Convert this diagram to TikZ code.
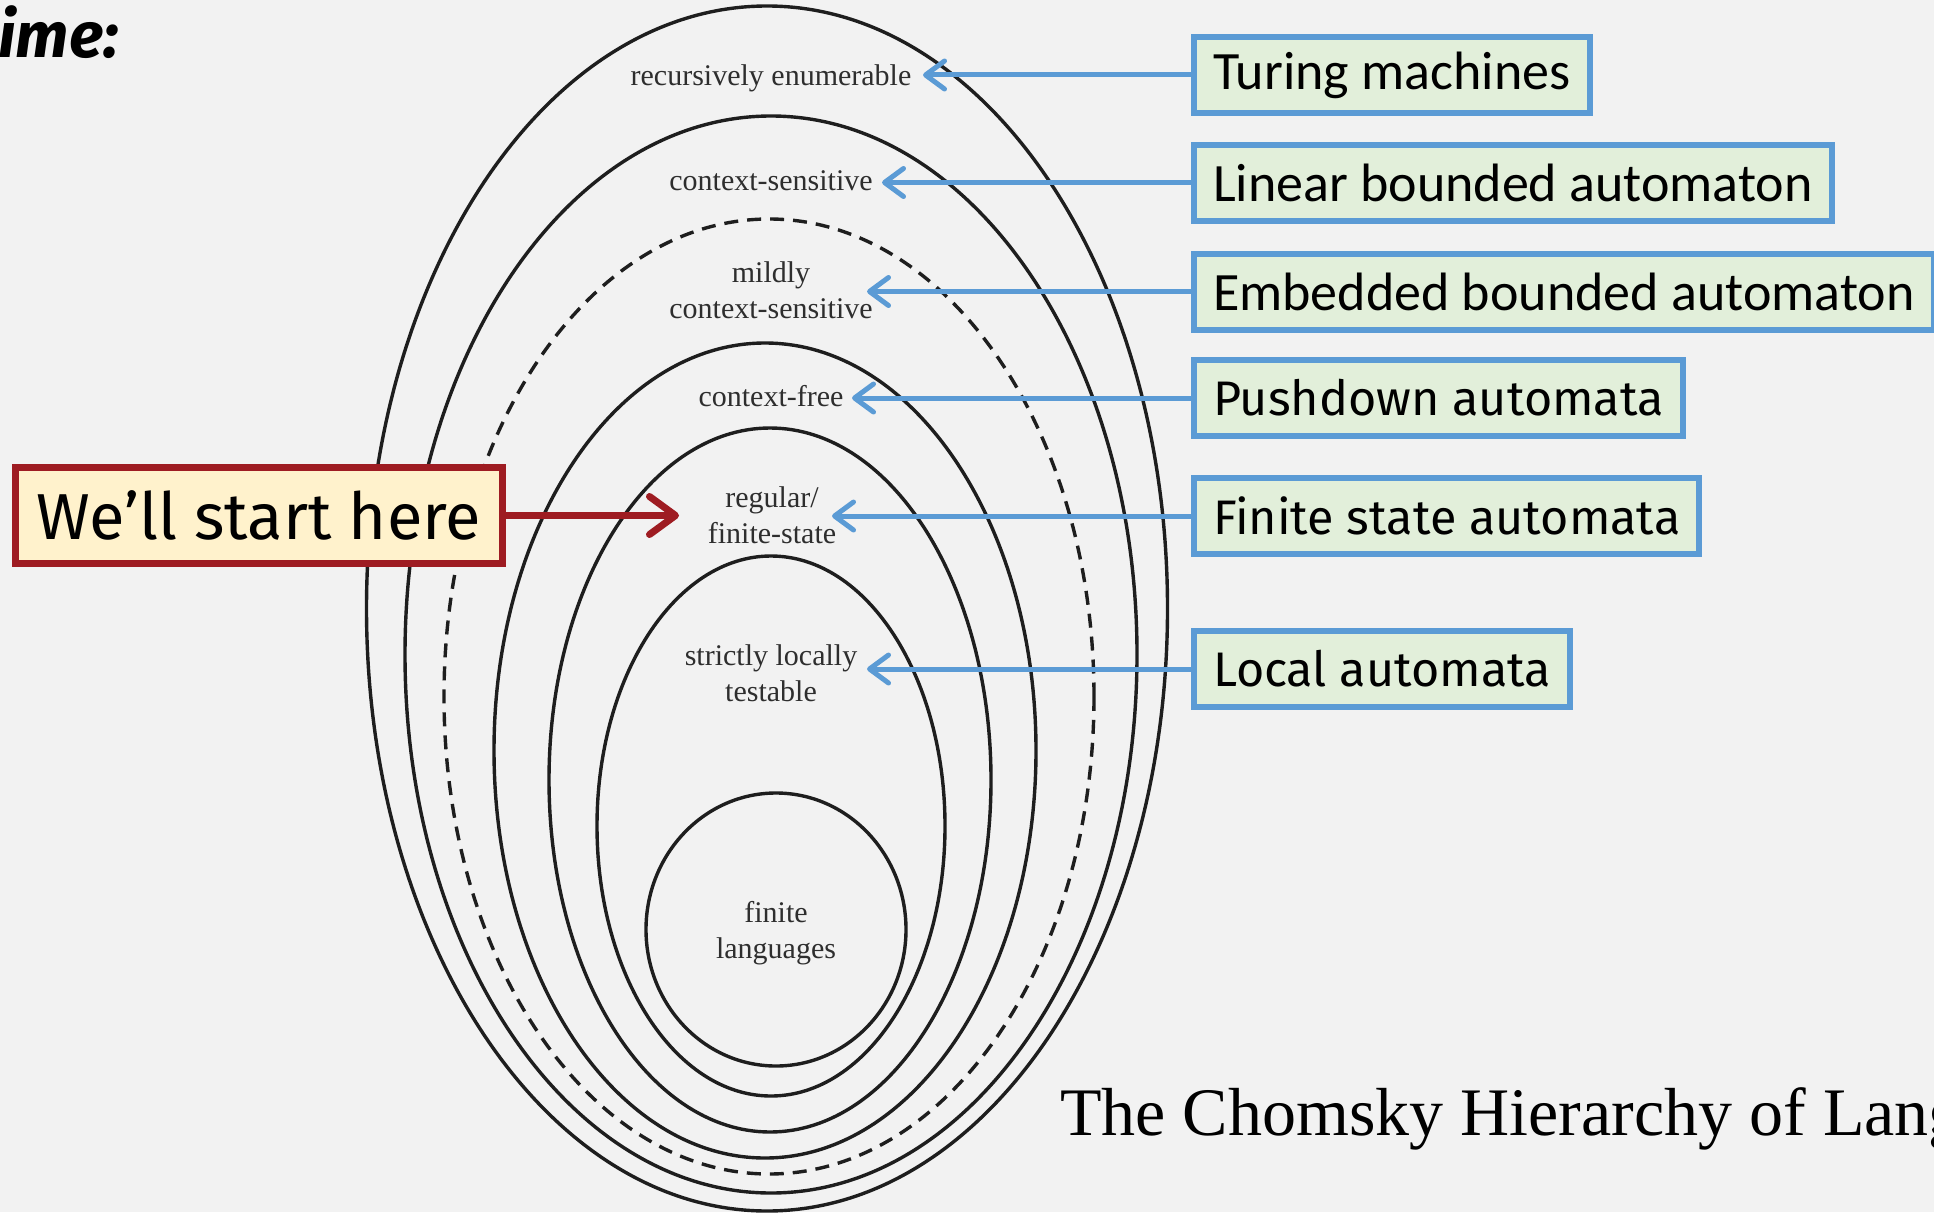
\documentclass[tikz,border=0pt]{standalone}
\usepackage{fontspec}
\setmainfont{Liberation Serif}
\newfontfamily\calfont{Carlito}
\newfontfamily\firafont{Fira Sans}
\usetikzlibrary{arrows.meta}

\definecolor{pagebg}{HTML}{F2F2F2}
\definecolor{setink}{HTML}{1E1E1E}
\definecolor{labelink}{HTML}{2E2E2E}
\definecolor{machineedge}{HTML}{5B9BD5}
\definecolor{machinefill}{HTML}{E2EFDA}
\definecolor{startedge}{HTML}{9E1C22}
\definecolor{startfill}{HTML}{FFF2CC}

\begin{document}
\begin{tikzpicture}[x=1pt,y=-1pt,
  setline/.style={draw=setink,line width=3.4pt},
  classlabel/.style={font=\fontsize{30}{36}\selectfont,text=labelink,align=center,inner sep=0pt},
  machinebox/.style={draw=machineedge,fill=machinefill,line width=6pt,minimum height=76pt,
    inner xsep=19pt,inner ysep=0pt,anchor=west,text=black},
  calbox/.style={machinebox,font=\calfont\fontsize{54}{60}\selectfont},
  firabox/.style={machinebox,font=\firafont\fontsize{48.5}{56}\selectfont},
  machinearrow/.style={draw=machineedge,line width=5pt,line cap=round,
    -{Straight Barb[length=19pt,width=28pt,line cap=round,line join=round]}},
  startarrow/.style={draw=startedge,line width=7pt,
    -{Straight Barb[length=26pt,width=38pt,line cap=round,line join=round]}}]

\useasboundingbox (0,0) rectangle (1934,1212);
\fill[pagebg] (0,0) rectangle (1934,1212);
\clip (0,0) rectangle (1934,1212);

% handwritten heading fragment
\node[anchor=base west,inner sep=0pt,font=\firafont\bfseries\itshape\fontsize{64}{70}\selectfont] (heading) at (-2,58) {ime:};

% nested language classes
\draw[setline] (767,608.5) ellipse [x radius=400.5pt, y radius=602.5pt];
\draw[setline] (771,654.5) ellipse [x radius=366pt, y radius=538.5pt];
\draw[setline,dash pattern=on 14pt off 9pt] (769,696.5) ellipse [x radius=325pt, y radius=477.5pt];
\draw[setline] (765,750.5) ellipse [x radius=271pt, y radius=407.5pt];
\draw[setline] (770,780) ellipse [x radius=221pt, y radius=352pt];
\draw[setline] (771,826) ellipse [x radius=174pt, y radius=270pt];
\draw[setline] (776,929.5) ellipse [x radius=130pt, y radius=136.5pt];

% class names
\node[classlabel,anchor=base] (re)  at (771,86)  {recursively enumerable};
\node[classlabel,anchor=base] (cs)  at (771,190) {context-sensitive};
\node[classlabel] (mcs) at (771,290.5) {mildly\\context-sensitive};
\node[classlabel,anchor=base] (cf)  at (771,406) {context-free};
\node[classlabel] (reg) at (772,515.5) {regular/\\finite-state};
\node[classlabel] (slt) at (771,673.5) {strictly locally\\testable};
\node[classlabel] (fin) at (776,933) {finite\\languages};

% arrow tips beside the class names
\coordinate (reTip)  at (923,75);
\coordinate (csTip)  at (882,182.5);
\coordinate (mcsTip) at (867,291.5);
\coordinate (cfTip)  at (852,398);
\coordinate (regTip) at (832,516);
\coordinate (sltTip) at (867,669);
\coordinate (startTip) at (679,515.5);

% machine models
\node[calbox]  (tm)  at (1191,75)    {Turing machines};
\node[calbox]  (lba) at (1191,182.5) {Linear bounded automaton};
\node[calbox]  (eba) at (1191,291.5) {Embedded bounded automaton};
\node[firabox] (pda) at (1191,398)   {Pushdown automata};
\node[firabox] (fsa) at (1191,516)   {Finite state automata};
\node[firabox] (la)  at (1191,669)   {Local automata};

\draw[machinearrow] (tm.west)  -- (reTip);
\draw[machinearrow] (lba.west) -- (csTip);
\draw[machinearrow] (eba.west) -- (mcsTip);
\draw[machinearrow] (pda.west) -- (cfTip);
\draw[machinearrow] (fsa.west) -- (regTip);
\draw[machinearrow] (la.west)  -- (sltTip);

% starting point
\node[draw=startedge,fill=startfill,line width=7pt,minimum height=96pt,inner xsep=21pt,inner ysep=0pt,
  anchor=west,font=\firafont\fontsize{65}{70}\selectfont] (start) at (12,515.5) {We’ll start here};
\draw[startarrow] (start.east) -- (startTip);

% caption
\node[anchor=base west,inner sep=0pt,font=\fontsize{68}{76}\selectfont] (caption) at (1060,1135) {The Chomsky Hierarchy of Lang};
\end{tikzpicture}
\end{document}
